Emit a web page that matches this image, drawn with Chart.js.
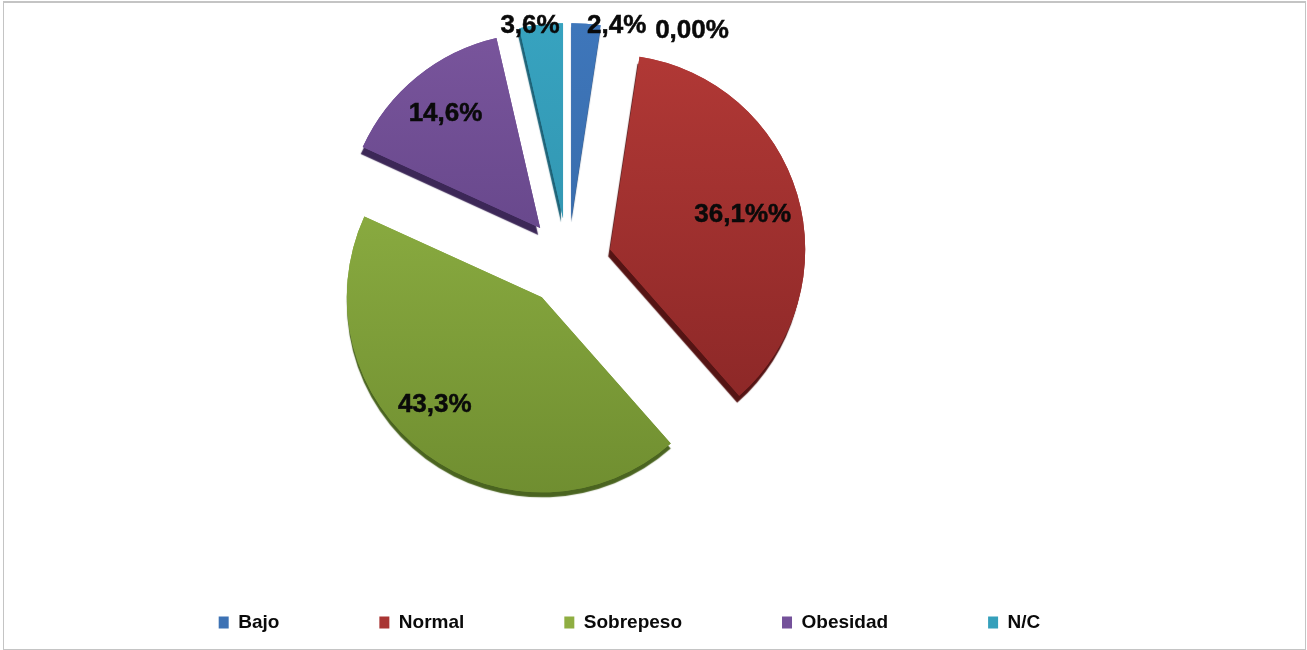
<!DOCTYPE html>
<html>
<head>
<meta charset="utf-8">
<script src="https://cdn.jsdelivr.net/npm/chart.js@4"></script>
<style>
  html, body { margin: 0; padding: 0; background: #fff; overflow: hidden; }
  #wrap { position: relative; width: 1307px; height: 650px; }
  #frame { position: absolute; left: 3px; top: 1px; right: 1px; bottom: 0; border: 2px solid #c4c4c4; border-left-width: 1px; border-right-width: 1px; border-bottom-width: 1px; box-sizing: border-box; }
  canvas { position: absolute; left: 0; top: 0; }
</style>
</head>
<body>
<div id="wrap">
  <canvas id="chart" width="1307" height="650"></canvas>
  <div id="frame"></div>
</div>
<script>
const categories = ['Bajo', 'Normal', 'Sobrepeso', 'Obesidad', 'N/C', ''];
const values = [2.4, 36.1, 43.3, 14.6, 3.6, 0];
const valueLabels = ['2,4%', '36,1%%', '43,3%', '14,6%', '3,6%', '0,00%'];

const topColors = ['#3f78bd', '#b53a37', '#96b948', '#7c579f', '#38a5c2', '#ffffff'];
const bottomColors = ['#33639f', '#842424', '#6c8a2e', '#553a7a', '#2d8aa4', '#ffffff'];
const edgeColors = ['#274c7c', '#551414', '#4a6420', '#3c2757', '#1d6378', '#ffffff'];
const legendColors = ['#3d72b4', '#a93533', '#8fae42', '#74519a', '#35a0bb'];

// thickness of the dark side of each slice
const depthX = [0, -2, 0, -2, -2, 0];
const depthY = [4, 7, 5, 7, 4, 0];
// label position relative to the middle of each slice
const labelNudge = [[38, -95], [39, -7], [-49, 29], [-33, -39], [-22, -96], [124, -90]];
// how far every slice is pulled out of the pie. The arc offset option also
// grows the radius of the slice, so the slices are moved by hand in explodedArcs
const explode = 44;

const sliceFill = (context) => {
  const { chart, dataIndex } = context;
  if (!chart.chartArea) return topColors[dataIndex];
  const g = chart.ctx.createLinearGradient(0, 26, 0, 500);
  g.addColorStop(0, topColors[dataIndex]);
  g.addColorStop(1, bottomColors[dataIndex]);
  return g;
};

const explodedArcs = {
  id: 'explodedArcs',
  beforeDatasetDraw(chart) {
    const ctx = chart.ctx;
    const arcs = chart.getDatasetMeta(0).data;
    arcs.forEach((arc, i) => {
      if (!values[i]) return;
      const angle = (arc.startAngle + arc.endAngle) / 2;
      ctx.save();
      ctx.translate(Math.cos(angle) * explode, Math.sin(angle) * explode);
      // dark side of the slice, a hard shadow under it
      ctx.save();
      ctx.shadowColor = edgeColors[i];
      ctx.shadowOffsetX = depthX[i];
      ctx.shadowOffsetY = depthY[i];
      ctx.shadowBlur = 1;
      arc.draw(ctx);
      ctx.restore();
      arc.draw(ctx);
      ctx.restore();
    });
    return false;
  }
};

const sliceLabels = {
  id: 'sliceLabels',
  afterDatasetsDraw(chart) {
    const ctx = chart.ctx;
    ctx.save();
    ctx.font = 'bold 26px "Liberation Sans"';
    ctx.fillStyle = '#0a0a0a';
    ctx.strokeStyle = '#0a0a0a';
    ctx.lineWidth = 0.5;
    ctx.textAlign = 'center';
    ctx.textBaseline = 'middle';
    chart.getDatasetMeta(0).data.forEach((arc, i) => {
      const mid = arc.getCenterPoint();
      const angle = (arc.startAngle + arc.endAngle) / 2;
      const x = mid.x + Math.cos(angle) * explode + labelNudge[i][0];
      const y = mid.y + Math.sin(angle) * explode + labelNudge[i][1];
      ctx.fillText(valueLabels[i], x, y);
      ctx.strokeText(valueLabels[i], x, y);
    });
    ctx.restore();
  }
};

// legend sits right of the pie centre and lower than the layout puts it
const legendPlace = {
  id: 'legendPlace',
  afterLayout(chart) {
    chart.legend.left += 61.5;
    chart.legend.right += 61.5;
    chart.legend.top = 513;
    chart.legend.bottom = 650;
  }
};

new Chart(document.getElementById('chart'), {
  type: 'pie',
  data: {
    labels: categories,
    datasets: [{
      data: values,
      backgroundColor: sliceFill,
      borderWidth: 0,
      hoverOffset: 0
    }]
  },
  options: {
    responsive: false,
    animation: false,
    devicePixelRatio: 1,
    layout: { padding: { top: 67, right: 171, bottom: 64, left: 0 } },
    plugins: {
      tooltip: { enabled: false },
      legend: {
        position: 'bottom',
        labels: {
          boxWidth: 10,
          boxHeight: 12,
          padding: 100,
          color: '#0a0a0a',
          font: { family: 'Liberation Sans', size: 19, weight: 'bold' },
          filter: (item) => item.text !== '',
          generateLabels(chart) {
            return Chart.overrides.pie.plugins.legend.labels.generateLabels(chart).map((item, i) => {
              item.fillStyle = legendColors[i];
              item.lineWidth = 0;
              return item;
            });
          }
        }
      }
    }
  },
  plugins: [explodedArcs, sliceLabels, legendPlace]
});
</script>
</body>
</html>
